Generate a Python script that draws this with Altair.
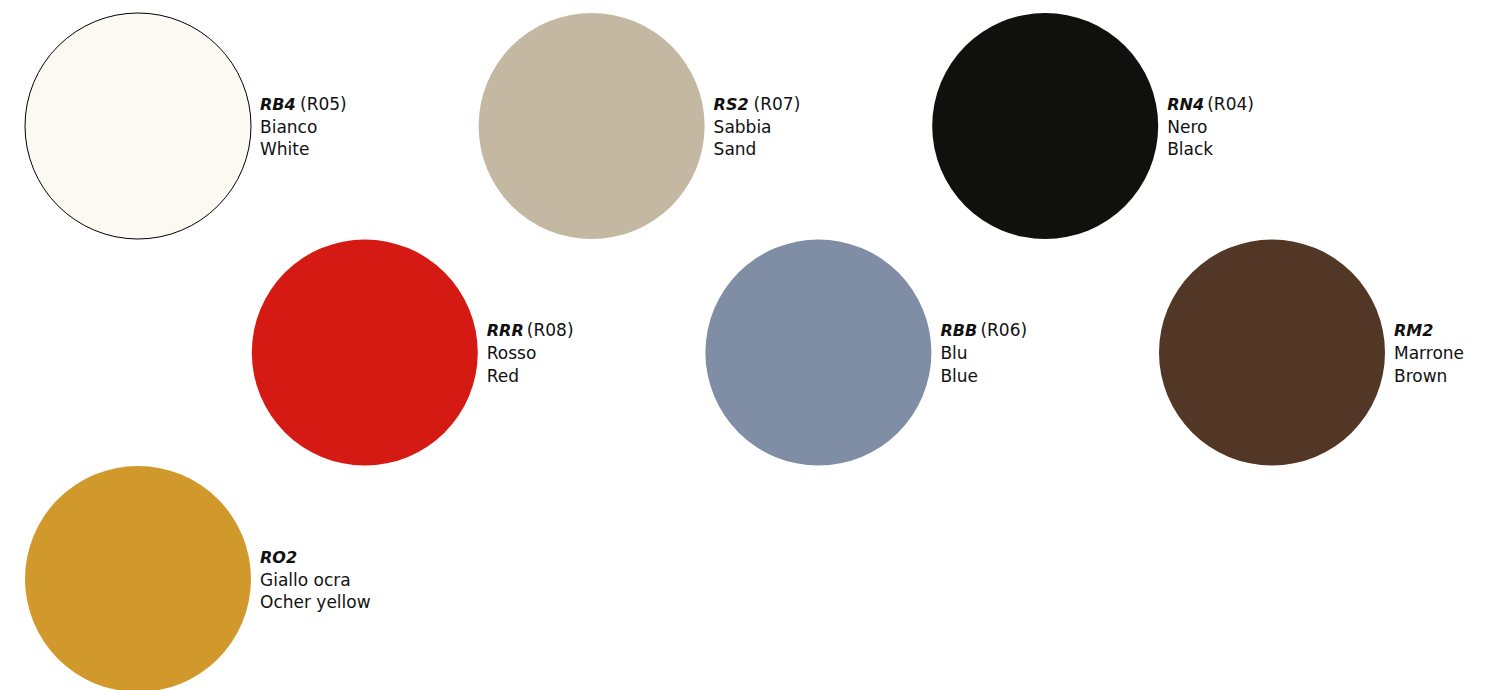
import altair as alt
import pandas as pd

codes = ["RB4", "RS2", "RN4", "RRR", "RBB", "RM2", "RO2"]
refs = ["(R05)", "(R07)", "(R04)", "(R08)", "(R06)", "", ""]
names_it = ["Bianco", "Sabbia", "Nero", "Rosso", "Blu", "Marrone", "Giallo ocra"]
names_en = ["White", "Sand", "Black", "Red", "Blue", "Brown", "Ocher yellow"]
colors = ["#fcf9f2", "#c4b8a2", "#10100e", "#d51a14", "#7f8da5", "#523726", "#d1992b"]
cols = [0, 2, 4, 1, 3, 5, 0]
rows = [0, 0, 0, 1, 1, 1, 2]

df = pd.DataFrame({
    "code": codes, "ref": refs, "it": names_it, "en": names_en,
    "color": colors, "col": cols, "row": rows,
})

W, H = 1488, 700
STEP_X, STEP_Y = 226.8, 226.5
X0, Y0 = 130, 118

xs = alt.Scale(domain=[-X0 / STEP_X, (W - X0) / STEP_X], nice=False, zero=False)
ys = alt.Scale(domain=[-Y0 / STEP_Y, (H - Y0) / STEP_Y], nice=False, zero=False, reverse=True)

base = alt.Chart(df).encode(
    x=alt.X("col:Q", scale=xs, axis=None),
    y=alt.Y("row:Q", scale=ys, axis=None),
)

circles = base.mark_point(filled=True, shape="circle", size=226 * 226, opacity=1).encode(
    color=alt.Color("color:N", scale=None),
    stroke=alt.value("#000000"),
    strokeWidth=alt.condition("datum.code == 'RB4'", alt.value(1), alt.value(0)),
)

FONT = "DejaVu Sans"
FS = 17
TXT = "#111111"
DX = 122

code_t = base.mark_text(align="left", baseline="middle", font=FONT, fontSize=16,
                        fontWeight="bold", fontStyle="italic", color=TXT,
                        dx=DX, dy=-21.5).encode(text="code:N")
ref_t = base.mark_text(align="left", baseline="middle", font=FONT, fontSize=FS,
                       color=TXT, dx=DX + 40, dy=-21.5).encode(text="ref:N")
it_t = base.mark_text(align="left", baseline="middle", font=FONT, fontSize=FS,
                      color=TXT, dx=DX, dy=1.5).encode(text="it:N")
en_t = base.mark_text(align="left", baseline="middle", font=FONT, fontSize=FS,
                      color=TXT, dx=DX, dy=24).encode(text="en:N")

chart = alt.layer(circles, code_t, ref_t, it_t, en_t).properties(
    width=W, height=H, padding=0,
    autosize=alt.AutoSizeParams(type="none"),
).configure_view(stroke=None)

chart.save("out.html", embed_options={"renderer": "svg", "actions": False})
